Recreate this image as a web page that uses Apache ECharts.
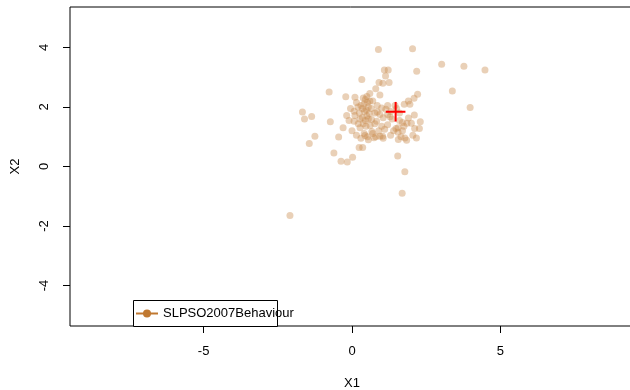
<!DOCTYPE html>
<html><head><meta charset="utf-8">
<script src="https://cdn.jsdelivr.net/npm/echarts@6/dist/echarts.min.js"></script>
<style>html,body{margin:0;padding:0;background:#fff}#c{width:630px;height:390px}</style>
</head><body><div id="c"></div>
<script>
const seriesName = 'SLPSO2007Behaviour';
const xTicks = [-5, 0, 5];
const yTicks = [-4, -2, 0, 2, 4];
const points = [
[0.89,3.93],[2.04,3.96],[3.02,3.44],[3.77,3.37],[4.48,3.24],[2.18,3.2],[1.09,3.24],[1.22,3.24],[1.13,3.04],[0.33,2.92],
[0.91,2.82],[1.04,2.8],[1.25,2.82],[0.80,2.61],[0.94,2.40],[-0.77,2.50],[-0.21,2.34],[0.10,2.33],[2.21,2.43],[2.09,2.29],
[3.38,2.54],[3.98,1.98],[-1.67,1.83],[-1.60,1.60],[-1.36,1.68],[-0.73,1.50],[-1.25,1.02],[-1.44,0.77],[-0.45,0.99],[-0.61,0.45],
[-0.37,0.18],[-0.16,0.15],[0.02,0.31],[0.24,0.64],[0.36,0.64],[1.54,0.35],[1.78,-0.18],[1.69,-0.90],[-2.09,-1.65],[1.76,2.09],
[1.95,2.09],[2.10,1.73],[1.90,1.63],[2.11,1.28],[2.27,1.28],[2.17,0.96],[1.84,0.88],[1.78,0.96],[1.56,0.91],
[1.85,1.45],[1.70,1.48],[1.55,1.30],[1.40,1.20],[1.48,1.28],[1.0,1.97],[1.14,1.92],[1.28,1.67],[1.05,1.64],[0.94,1.75],
[0.77,1.80],[0.85,1.83],[0.83,1.52],[1.0,1.35],[1.03,1.02],[0.94,1.02],[0.80,1.0],[0.70,1.11],[0.52,1.0],[0.41,1.11],
[0.07,1.86],[0.07,1.52],[0.27,1.60],[0.21,1.44],[0.38,1.44],[0.47,1.35],[0.61,1.38],[0.27,1.30],[0.66,1.58],[0.77,1.44],
[-0.18,1.71],[0.10,1.71],
[0.40,2.10],[0.45,2.25],[0.50,2.35],[0.52,2.15],[0.55,2.0],[0.35,1.95],[0.42,1.85],[0.48,1.90],[0.58,1.78],[0.30,2.05],
[0.60,2.20],[0.38,2.30],[0.25,1.80],[0.65,1.95],[0.50,1.70],[0.55,1.60],[0.35,1.65],[0.45,1.55],
[1.3,1.85],[1.6,1.8],[1.5,1.95],[1.45,2.05],[1.2,1.75],[1.35,1.6],[1.6,1.55],[1.75,1.35],[2.0,1.45],[1.2,1.4],
[1.1,1.25],[1.3,1.05],[0.2,2.0],[0.15,2.15],[-0.05,1.95],[-0.1,1.55],[0.6,2.45],[0.7,2.2],[0.85,2.05],[1.55,1.15],
[1.65,1.0],[1.2,2.05],[2.05,1.05],
[0.0,1.2],[0.15,1.05],[0.55,0.9],[0.9,1.2],[1.05,0.95],[-0.3,1.3],[0.3,0.95],[1.9,2.2],[2.3,1.5],[1.7,1.2],
[0.44,1.04],[0.74,0.97],[0.67,1.18]
];
const crossCenter = [1.47, 1.84];
const crossHalf = 0.33;

const font = 'Liberation Sans, Arial, sans-serif';
const chart = echarts.init(document.getElementById('c'));
chart.setOption({
  animation: false,
  backgroundColor: '#fff',
  grid: { left: 70, right: -4, top: 7, bottom: 64, show: true, borderColor: '#000', borderWidth: 1,
          containLabel: false, outerBoundsMode: 'none' },
  xAxis: {
    type: 'value', min: -9.5, max: 9.5,
    name: 'X1', nameLocation: 'middle', nameGap: 51,
    nameTextStyle: { fontFamily: font, fontSize: 13, color: '#000' },
    axisLine: { show: false, onZero: false },
    splitLine: { show: false },
    axisTick: { show: true, length: 7, inside: false, lineStyle: { color: '#000' }, customValues: xTicks },
    axisLabel: { fontFamily: font, fontSize: 13, color: '#000', margin: 19, customValues: xTicks }
  },
  yAxis: {
    type: 'value', min: -5.36, max: 5.36,
    name: 'X2', nameLocation: 'middle', nameGap: 48,
    nameTextStyle: { fontFamily: font, fontSize: 13, color: '#000' },
    axisLine: { show: false, onZero: false },
    splitLine: { show: false },
    axisTick: { show: true, length: 7, lineStyle: { color: '#000' }, customValues: yTicks },
    axisLabel: { fontFamily: font, fontSize: 13, color: '#000', rotate: 90, margin: 19, customValues: yTicks }
  },
  legend: {
    left: 135, top: 307, data: [seriesName], itemWidth: 22, itemHeight: 10, itemGap: 5,
    textStyle: { fontFamily: font, fontSize: 13, color: '#000' }, padding: 0
  },
  graphic: [{
    type: 'rect', left: 133, top: 300, shape: { width: 144, height: 26 },
    style: { fill: '#fff', stroke: '#000', lineWidth: 1 }, z: 0, silent: true
  }],
  series: [
    { type: 'scatter', name: 'pts', data: points, symbolSize: 7,
      itemStyle: { color: '#C88A4A', opacity: 0.4 }, silent: true, z: 2 },
    { type: 'line', name: 'crossH', data: [[crossCenter[0]-crossHalf, crossCenter[1]],[crossCenter[0]+crossHalf, crossCenter[1]]],
      showSymbol: false, lineStyle: { color: '#FF0000', width: 2 }, z: 3, silent: true },
    { type: 'line', name: 'crossV', data: [[crossCenter[0], crossCenter[1]-crossHalf],[crossCenter[0], crossCenter[1]+crossHalf]],
      showSymbol: false, lineStyle: { color: '#FF0000', width: 2 }, z: 3, silent: true },
    { type: 'line', name: seriesName, data: [], symbol: 'circle', symbolSize: 6,
      itemStyle: { color: '#C07830' }, lineStyle: { color: '#C07830', width: 2 } }
  ]
});
</script></body></html>
